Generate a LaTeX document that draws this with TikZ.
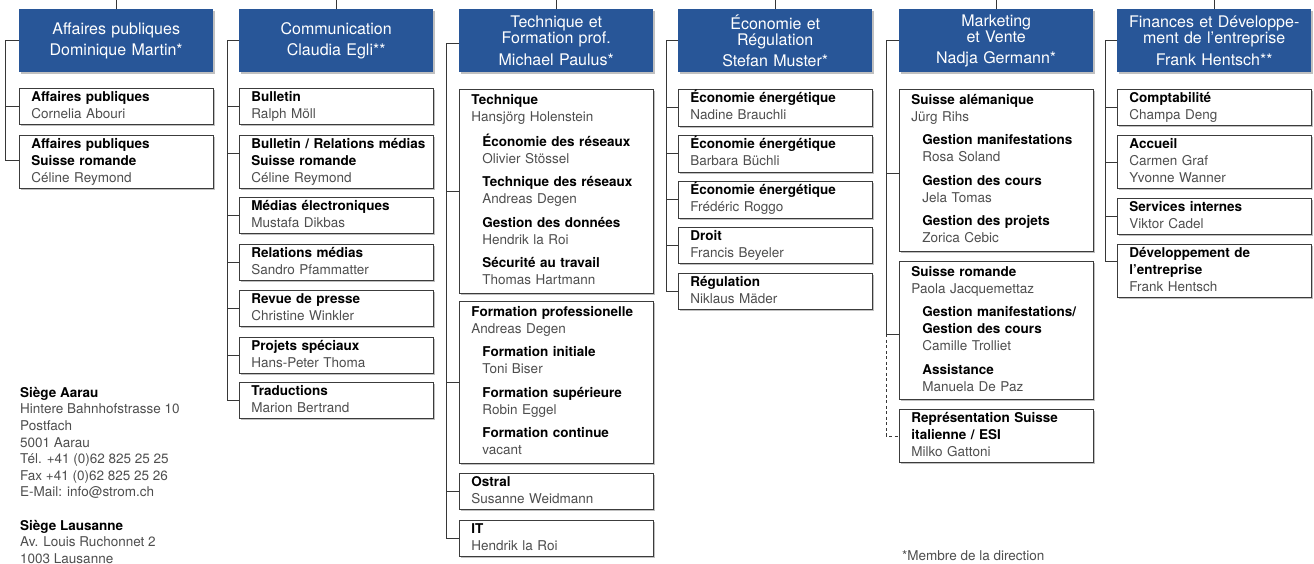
\documentclass[tikz,border=0pt]{standalone}
\usepackage{fontspec}
\setmainfont{TeX Gyre Heros}
\usetikzlibrary{shadows}
\definecolor{hdrblue}{RGB}{40,86,152}
\definecolor{namegray}{RGB}{78,78,78}
\definecolor{boxgray}{RGB}{60,60,60}
\definecolor{linegray}{RGB}{55,55,55}
\newcommand\Ttl[1]{\hspace*{6pt}\textbf{#1}\strut}
\newcommand\Nm[1]{\hspace*{6pt}{\color{namegray}#1}\strut}
\newcommand\STtl[1]{\hspace*{17pt}\textbf{#1}\strut}
\newcommand\SNm[1]{\hspace*{17pt}{\color{namegray}#1}\strut}
\tikzset{
  shad/.style={drop shadow={shadow xshift=2pt, shadow yshift=-2pt, opacity=0.35, fill=black!70}},
  cbox/.style={draw=boxgray, line width=0.9pt, fill=white, shad, anchor=north west,
    text width=182pt, inner xsep=6pt, inner ysep=1pt, align=left,
    font=\fontsize{13.5}{17}\selectfont},
  gbox/.style={cbox, inner ysep=3pt},
  hbox/.style={fill=hdrblue, text=white, shad, anchor=north west, minimum width=194pt,
    minimum height=63pt, text width=190pt, inner xsep=2pt, inner ysep=2pt, align=center,
    font=\fontsize{16}{16}\selectfont},
  conn/.style={draw=linegray, line width=0.8pt},
  dconn/.style={conn, dash pattern=on 3pt off 2.5pt},
  foot/.style={inner sep=0pt, text=namegray, font=\fontsize{13.5}{16.6}\selectfont}
}
\begin{document}
\begin{tikzpicture}[x=1pt,y=-1pt]
\useasboundingbox (0,0) rectangle (1314,563);
\clip (0,0) rectangle (1314,563);
\fill[white] (0,0) rectangle (1314,563);
\coordinate (top) at (0,0);

% ---------- headers ----------
\node[hbox] (h1) at (19,9) {Affaires publiques\\[5.5pt]Dominique Martin*};
\node[hbox] (h2) at (239,9) {Communication\\[5.5pt]Claudia Egli**};
\node[hbox] (h3) at (459,9) {Technique et\\Formation prof.\\[5.5pt]Michael Paulus*};
\node[hbox] (h4) at (678,9) {Économie et\\Régulation\\[5.5pt]Stefan Muster*};
\node[hbox] (h5) at (899,9) {Marketing\\et Vente\\[5.5pt]Nadja Germann*};
\node[hbox] (h6) at (1117,9) {Finances et Développe-\\ment de l'entreprise\\[5.5pt]Frank Hentsch**};

\foreach \h in {h1,h2,h3,h4,h5,h6} \draw[conn] (\h.north) -- (\h.north |- top);

% ---------- column 1 ----------
\node[cbox] (c1a) at (19,88) {\Ttl{Affaires publiques}\\\Nm{Cornelia Abouri}};
\node[cbox] (c1b) at (19,135) {\Ttl{Affaires publiques}\\\Ttl{Suisse romande}\\\Nm{Céline Reymond}};

% ---------- column 2 ----------
\node[cbox] (c2a) at (239,88) {\Ttl{Bulletin}\\\Nm{Ralph Möll}};
\node[cbox] (c2b) at (239,135) {\Ttl{Bulletin / Relations médias}\\\Ttl{Suisse romande}\\\Nm{Céline Reymond}};
\node[cbox] (c2c) at (239,197) {\Ttl{Médias électroniques}\\\Nm{Mustafa Dikbas}};
\node[cbox] (c2d) at (239,244) {\Ttl{Relations médias}\\\Nm{Sandro Pfammatter}};
\node[cbox] (c2e) at (239,290) {\Ttl{Revue de presse}\\\Nm{Christine Winkler}};
\node[cbox] (c2f) at (239,337) {\Ttl{Projets spéciaux}\\\Nm{Hans-Peter Thoma}};
\node[cbox] (c2g) at (239,382) {\Ttl{Traductions}\\\Nm{Marion Bertrand}};

% ---------- column 3 ----------
\node[gbox] (c3a) at (459,89) {\Ttl{Technique}\\\Nm{Hansjörg Holenstein}\\[6.5pt]
  \STtl{Économie des réseaux}\\\SNm{Olivier Stössel}\\[6.5pt]
  \STtl{Technique des réseaux}\\\SNm{Andreas Degen}\\[6.5pt]
  \STtl{Gestion des données}\\\SNm{Hendrik la Roi}\\[6.5pt]
  \STtl{Sécurité au travail}\\\SNm{Thomas Hartmann}};
\node[gbox] (c3b) at (459,301) {\Ttl{Formation professionelle}\\\Nm{Andreas Degen}\\[6.5pt]
  \STtl{Formation initiale}\\\SNm{Toni Biser}\\[6.5pt]
  \STtl{Formation supérieure}\\\SNm{Robin Eggel}\\[6.5pt]
  \STtl{Formation continue}\\\SNm{vacant}};
\node[cbox] (c3c) at (459,473) {\Ttl{Ostral}\\\Nm{Susanne Weidmann}};
\node[cbox] (c3d) at (459,520) {\Ttl{IT}\\\Nm{Hendrik la Roi}};

% ---------- column 4 ----------
\node[cbox] (c4a) at (678,89) {\Ttl{Économie énergétique}\\\Nm{Nadine Brauchli}};
\node[cbox] (c4b) at (678,135) {\Ttl{Économie énergétique}\\\Nm{Barbara Büchli}};
\node[cbox] (c4c) at (678,181) {\Ttl{Économie énergétique}\\\Nm{Frédéric Roggo}};
\node[cbox] (c4d) at (678,227) {\Ttl{Droit}\\\Nm{Francis Beyeler}};
\node[cbox] (c4e) at (678,273) {\Ttl{Régulation}\\\Nm{Niklaus Mäder}};

% ---------- column 5 ----------
\node[gbox] (c5a) at (899,89) {\Ttl{Suisse alémanique}\\\Nm{Jürg Rihs}\\[6.5pt]
  \STtl{Gestion manifestations}\\\SNm{Rosa Soland}\\[6.5pt]
  \STtl{Gestion des cours}\\\SNm{Jela Tomas}\\[6.5pt]
  \STtl{Gestion des projets}\\\SNm{Zorica Cebic}};
\node[gbox] (c5b) at (899,261) {\Ttl{Suisse romande}\\\Nm{Paola Jacquemettaz}\\[6.5pt]
  \STtl{Gestion manifestations/}\\\STtl{Gestion des cours}\\\SNm{Camille Trolliet}\\[6.5pt]
  \STtl{Assistance}\\\SNm{Manuela De Paz}};
\node[cbox] (c5c) at (899,409) {\Ttl{Représentation Suisse}\\\Ttl{italienne / ESI}\\\Nm{Milko Gattoni}};

% ---------- column 6 ----------
\node[cbox] (c6a) at (1117,89) {\Ttl{Comptabilité}\\\Nm{Champa Deng}};
\node[cbox] (c6b) at (1117,135) {\Ttl{Accueil}\\\Nm{Carmen Graf}\\\Nm{Yvonne Wanner}};
\node[cbox] (c6c) at (1117,198) {\Ttl{Services internes}\\\Nm{Viktor Cadel}};
\node[cbox] (c6d) at (1117,244) {\Ttl{Développement de}\\\Ttl{l’entreprise}\\\Nm{Frank Hentsch}};

% ---------- trunks ----------
\coordinate (t1) at (5,0);
\coordinate (t2) at (227,0);
\coordinate (t3) at (446,0);
\coordinate (t4) at (666,0);
\coordinate (t5) at (886,0);
\coordinate (t6) at (1105,0);

% column 1
\draw[conn] (h1.west) -| ([yshift=1.5pt]c1b.west -| t1) -- ([yshift=1.5pt]c1b.west);
\draw[conn] (c1a.west) -- (c1a.west -| t1);
% column 2
\draw[conn] (h2.west) -| (c2g.west -| t2) -- (c2g.west);
\foreach \c/\s in {c2a/0,c2b/9,c2c/0,c2d/0,c2e/0,c2f/0}
  \draw[conn] ([yshift=\s pt]\c.west) -- ([yshift=\s pt]\c.west -| t2);
% column 3
\draw[conn] ([yshift=-2.5pt]h3.west) -| (c3d.west -| t3) -- (c3d.west);
\foreach \c in {c3a,c3b,c3c}
  \draw[conn] (\c.west) -- (\c.west -| t3);
% column 4
\draw[conn] (h4.west) -| (c4e.west -| t4) -- (c4e.west);
\foreach \c in {c4a,c4b,c4c,c4d}
  \draw[conn] (\c.west) -- (\c.west -| t4);
% column 5
\draw[conn] (h5.west) -| ([yshift=-4pt]c5b.west -| t5) -- ([yshift=-4pt]c5b.west);
\draw[conn] ([yshift=-3.5pt]c5a.west) -- ([yshift=-3.5pt]c5a.west -| t5);
\draw[dconn] ([yshift=-4pt]c5b.west -| t5) |- (c5c.west);
% column 6
\draw[conn] (h6.west) -| ([yshift=9.5pt]c6d.west -| t6) -- ([yshift=9.5pt]c6d.west);
\foreach \c in {c6a,c6b,c6c}
  \draw[conn] (\c.west) -- (\c.west -| t6);

% ---------- footer ----------
\node[foot, anchor=north west, align=left] (addr) at (20,385.4) {\strut\textcolor{black}{\textbf{Siège Aarau}}\\
Hintere Bahnhofstrasse 10\\Postfach\\5001 Aarau\\Tél. +41 (0)62 825 25 25\\Fax +41 (0)62 825 25 26\\E-Mail: info@strom.ch\\[16.6pt]
\textcolor{black}{\textbf{Siège Lausanne}}\\Av. Louis Ruchonnet 2\\1003 Lausanne};
\node[foot, anchor=base west] (note) at (902,560) {*Membre de la direction};
\end{tikzpicture}
\end{document}
